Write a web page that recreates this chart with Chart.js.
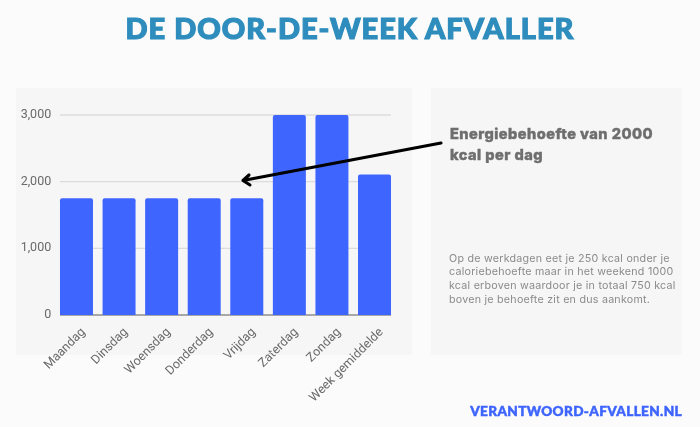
<!DOCTYPE html>
<html lang="nl">
<head>
<meta charset="utf-8">
<title>De door-de-week afvaller</title>
<script src="https://cdn.jsdelivr.net/npm/chart.js@4/dist/chart.umd.min.js"></script>
<style>
  html, body { margin: 0; padding: 0; background: #fbfbfb; }
  #page { position: relative; width: 700px; height: 427px; overflow: hidden; }
  .panel { position: absolute; top: 88px; height: 267px; background: #f6f6f6; }
  #panelLeft { left: 16px; width: 396px; }
  #panelRight { left: 431px; width: 251px; }
  canvas { position: absolute; left: 0; top: 0; }
  .txt { position: absolute; white-space: nowrap; }
  #title { left: 0; width: 700px; top: 10px; text-align: center; color: #2e8dbd; font: 900 29px/36px Lato, sans-serif; letter-spacing: 1px; -webkit-text-stroke: 1.2px #2e8dbd; }
  #heading { left: 450px; top: 124px; color: #6e6e6e; font: 800 14.6px/20.5px Inter, sans-serif; letter-spacing: 0.45px; -webkit-text-stroke: 0.4px #6e6e6e; }
  #note { left: 449px; top: 251.5px; color: #8a8a8a; font: 400 10.7px/13.7px Inter, sans-serif; letter-spacing: 0.24px; }
  #site { right: 18px; top: 402px; color: #3d64ff; font: 900 13.6px/18px Lato, sans-serif; letter-spacing: 0.35px; -webkit-text-stroke: 0.5px #3d64ff; }
</style>
</head>
<body>
<div id="page">
  <div class="panel" id="panelLeft"></div>
  <div class="panel" id="panelRight"></div>
  <canvas id="chart1" width="700" height="427"></canvas>
  <div class="txt" id="title">DE DOOR-DE-WEEK AFVALLER</div>
  <div class="txt" id="heading">Energiebehoefte van 2000<br>kcal per dag</div>
  <div class="txt" id="note">Op de werkdagen eet je 250 kcal onder je<br>caloriebehoefte maar in het weekend 1000<br>kcal erboven waardoor je in totaal 750 kcal<br>boven je behoefte zit en dus aankomt.</div>
  <div class="txt" id="site">VERANTWOORD-AFVALLEN.NL</div>
</div>
<script>
// =====================
// DATA
// =====================
const days = ["Maandag", "Dinsdag", "Woensdag", "Donderdag", "Vrijdag", "Zaterdag", "Zondag", "Week gemiddelde"];
const kcal = [1750, 1750, 1750, 1750, 1750, 3000, 3000, 2107];
const yTicks = [0, 1000, 2000, 3000];

// gridlines only run from the first bar's edge to the last bar's edge
const shortGrid = {
  id: "shortGrid",
  beforeDatasetsDraw(chart) {
    const bars = chart.getDatasetMeta(0).data;
    const y = chart.scales.y;
    const left = bars[0].x - bars[0].width / 2;
    const right = bars[bars.length - 1].x + bars[bars.length - 1].width / 2;
    const ctx = chart.ctx;
    ctx.save();
    yTicks.forEach(t => {
      ctx.strokeStyle = t === 0 ? "#a8a8a8" : "#dcdcdc";
      ctx.lineWidth = t === 0 ? 2 : 1.4;
      ctx.beginPath();
      ctx.moveTo(left, y.getPixelForValue(t));
      ctx.lineTo(right, y.getPixelForValue(t));
      ctx.stroke();
    });
    ctx.restore();
  }
};

// the black callout arrow, on top of the bars
const calloutArrow = {
  id: "calloutArrow",
  afterDraw(chart) {
    const ctx = chart.ctx;
    ctx.save();
    ctx.strokeStyle = "#000000";
    ctx.lineWidth = 3.1;
    ctx.lineCap = "round";
    ctx.lineJoin = "round";
    ctx.beginPath();
    ctx.moveTo(441, 143);
    ctx.lineTo(243, 180.5);
    ctx.moveTo(249, 175);
    ctx.lineTo(243, 180.5);
    ctx.lineTo(250, 185);
    ctx.stroke();
    ctx.restore();
  }
};

new Chart(document.getElementById("chart1"), {
  type: "bar",
  data: {
    labels: days,
    datasets: [{
      data: kcal,
      backgroundColor: "#3f65ff",
      borderRadius: { topLeft: 2, topRight: 2 },
      borderSkipped: "bottom",
      barPercentage: 0.775,
      categoryPercentage: 1
    }]
  },
  options: {
    responsive: false,
    animation: false,
    layout: { padding: { top: 115, right: 304.2, left: 0, bottom: 0 } },
    plugins: {
      legend: { display: false },
      title: { display: false },
      tooltip: { enabled: false }
    },
    scales: {
      x: {
        grid: { display: false, drawTicks: false },
        border: { display: false },
        afterFit: s => { s.height = 112; },
        ticks: {
          color: "#6a6a6a",
          font: { family: "Roboto", size: 12.5 },
          minRotation: 45,
          maxRotation: 45,
          autoSkip: false,
          padding: 10,
          labelOffset: 7
        }
      },
      y: {
        min: 0,
        max: 3000,
        grid: { display: false, drawTicks: false },
        border: { display: false },
        afterFit: s => { s.width = 55.2; },
        afterBuildTicks: s => { s.ticks = yTicks.map(v => ({ value: v })); },
        ticks: {
          color: "#6a6a6a",
          font: { family: "Roboto", size: 12.5 },
          padding: 4,
          callback: v => v.toLocaleString("en-US")
        }
      }
    }
  },
  plugins: [shortGrid, calloutArrow]
});
</script>
</body>
</html>
